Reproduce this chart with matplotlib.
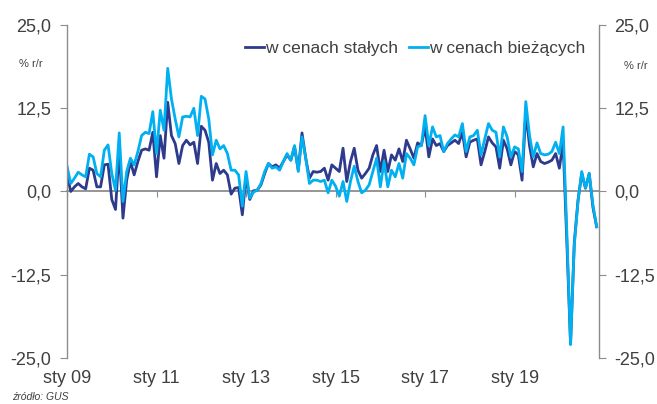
import numpy as np
import matplotlib
matplotlib.use("Agg")
import matplotlib.pyplot as plt
from matplotlib.ticker import FuncFormatter

plt.rcParams['font.family'] = ['Liberation Sans', 'DejaVu Sans']

# retail sales y/y, monthly from Jan 2009 to Nov 2020
stale = [2.5, 0.0, 0.7, 1.2, 0.7, 0.4, 3.5, 3.2, 0.7, 0.7, 4.0, 4.1,
         -1.2, -2.7, 6.5, -4.0, 1.7, 4.5, 2.5, 4.5, 6.2, 6.4, 6.2, 8.9,
         2.2, 8.4, 5.0, 13.4, 8.4, 7.2, 4.2, 6.9, 7.7, 7.0, 7.4, 4.2,
         9.8, 9.2, 7.4, 1.7, 4.2, 2.7, 3.2, 2.5, -0.4, 0.5, 0.6, -3.5,
         2.2, -1.2, 0.1, 0.2, 1.0, 2.7, 4.2, 3.7, 4.0, 3.5, 4.5, 5.5,
         4.7, 6.7, 3.2, 8.8, 5.0, 2.0, 3.0, 2.9, 3.0, 3.5, 1.7, 4.0,
         3.5, 3.0, 6.5, 1.5, 4.5, 6.5, 3.2, 2.0, 2.7, 3.5, 5.5, 6.9,
         3.0, 6.2, 3.0, 5.5, 4.7, 6.4, 4.5, 7.7, 6.4, 5.0, 7.3, 6.9,
         9.7, 5.2, 7.9, 6.9, 7.2, 6.0, 6.9, 7.3, 7.7, 7.2, 8.9, 5.2,
         7.4, 7.7, 7.9, 4.0, 6.0, 8.2, 7.3, 6.7, 3.5, 7.7, 6.4, 4.0,
         6.0, 5.5, 1.7, 11.9, 6.9, 3.7, 5.7, 4.5, 4.2, 4.4, 4.7, 5.7,
         3.5, 7.3, -7.5, -22.9, -7.7, -1.3, 2.7, 0.5, 2.7, -2.4, -5.3]

biezace = [3.8, 1.2, 2.0, 2.9, 2.5, 2.2, 5.6, 5.2, 2.7, 2.2, 6.2, 7.0,
           2.7, 0.2, 8.8, -1.5, 3.0, 5.0, 4.0, 6.0, 8.4, 8.9, 8.7, 12.0,
           5.7, 12.2, 9.2, 18.5, 13.9, 10.9, 8.2, 11.2, 11.3, 11.2, 12.5, 8.4,
           14.3, 13.9, 10.9, 5.5, 7.7, 6.4, 6.9, 5.7, 3.2, 3.2, 2.5, -2.2,
           3.0, -1.0, -0.1, 0.2, 1.2, 3.0, 4.2, 3.5, 3.7, 3.2, 4.5, 5.7,
           4.7, 6.9, 3.0, 8.2, 5.0, 1.2, 1.7, 1.7, 1.5, 1.7, -0.2, 1.7,
           0.8, -0.7, 1.5, -1.5, 1.5, 3.8, 1.5, -0.2, 0.2, 1.0, 3.0, 5.0,
           0.7, 4.5, 0.7, 3.2, 2.2, 4.2, 2.0, 5.7, 5.0, 4.0, 6.7, 6.9,
           11.4, 6.9, 9.7, 8.2, 8.4, 6.0, 7.2, 7.9, 8.5, 8.2, 10.2, 6.0,
           8.2, 8.4, 9.2, 5.5, 7.9, 10.2, 9.2, 8.9, 5.2, 9.7, 8.2, 5.2,
           6.7, 6.4, 3.0, 13.5, 8.4, 5.2, 7.3, 5.7, 5.5, 5.6, 6.0, 7.4,
           5.7, 9.7, -6.0, -23.0, -8.0, -1.5, 3.0, 0.5, 2.7, -2.0, -5.3]

tick_months = [0, 24, 48, 72, 96, 120]
tick_labels = ['sty 09', 'sty 11', 'sty 13', 'sty 15', 'sty 17', 'sty 19']
y_ticks = [-25, -12.5, 0, 12.5, 25]

x = np.arange(len(stale))
dark = '#2E3A8C'
light = '#00B0F0'
grey = '#8C8C8C'
txt = '#404040'

fig = plt.figure(figsize=(6.57, 4.04), dpi=100)
ax = fig.add_axes([0.102, 0.114, 0.809, 0.824])

ax.plot(x, stale, color=dark, lw=2.0, label='w cenach stałych')
ax.plot(x, biezace, color=light, lw=2.0, label='w cenach bieżących')

ax.set_xlim(0, 142.5)
ax.set_ylim(-25, 25)

# y axis on both sides
ax.set_yticks(y_ticks)
ax.yaxis.set_major_formatter(FuncFormatter(lambda v, p: f'{v:.1f}'.replace('.', ',')))
ax.tick_params(axis='y', which='both', left=True, right=True, labelleft=True,
               labelright=True, direction='out', length=5, color=grey,
               labelsize=13, labelcolor=txt, pad=6.5)

ax.spines['top'].set_visible(False)
for s in ['left', 'right']:
    ax.spines[s].set_color(grey)
    ax.spines[s].set_linewidth(1.0)

# zero line carries the x tick marks
ax.spines['bottom'].set_position(('data', 0))
ax.spines['bottom'].set_color(grey)
ax.spines['bottom'].set_linewidth(1.3)
ax.spines['bottom'].set_zorder(0.5)
ax.set_xticks(tick_months)
ax.tick_params(axis='x', direction='out', length=4, color=grey, labelbottom=False)

# labels at the bottom of the chart
sec = ax.secondary_xaxis('bottom')
sec.spines['bottom'].set_visible(False)
sec.set_xticks(tick_months)
sec.set_xticklabels(tick_labels)
sec.tick_params(length=0, pad=9, labelsize=13, labelcolor=txt)

leg = ax.legend(loc='center', bbox_to_anchor=(0.655, 0.93), ncol=2, frameon=False,
                fontsize=12.5, handlelength=1.1, handletextpad=0.05,
                columnspacing=0.6, borderaxespad=0)
for t in leg.get_texts():
    t.set_color(txt)

fig.text(31 / 657, 1 - 64 / 404, '% r/r', fontsize=8, color=txt, ha='center', va='center')
fig.text(636 / 657, 1 - 66 / 404, '% r/r', fontsize=8, color=txt, ha='center', va='center')
fig.text(0.018, 0.004, 'źródło: GUS', fontsize=7.5, style='italic', color=txt,
         ha='left', va='bottom')

fig.savefig('out.png', dpi=100)
